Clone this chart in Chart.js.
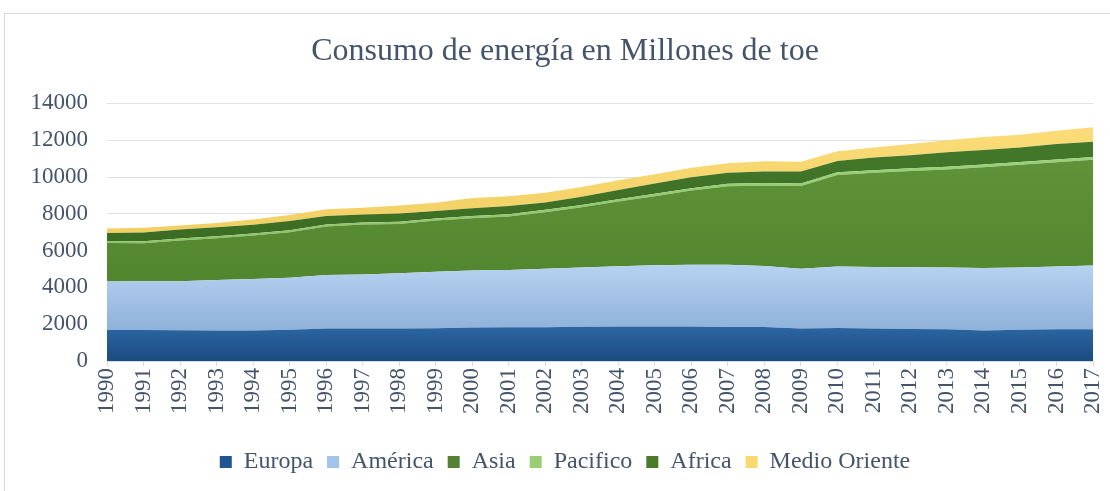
<!DOCTYPE html>
<html>
<head>
<meta charset="utf-8">
<script src="https://cdn.jsdelivr.net/npm/chart.js@4.4.1/dist/chart.umd.min.js"></script>
<style>
  body { margin: 0; background: #fff; overflow: hidden; }
  #frame { position: absolute; left: 4px; top: 13px; width: 1200px; height: 600px;
           border-left: 1px solid #d9d9d9; border-top: 1px solid #d9d9d9; }
  #myChart { position: absolute; left: 0; top: 0; }
</style>
</head>
<body>
<div id="frame"></div>
<canvas id="myChart" width="1110" height="491"></canvas>
<script>
const years = ['1990','1991','1992','1993','1994','1995','1996','1997','1998','1999',
  '2000','2001','2002','2003','2004','2005','2006','2007','2008','2009',
  '2010','2011','2012','2013','2014','2015','2016','2017']
const europa = [1680,1680,1670,1660,1660,1700,1770,1760,1770,1780,
  1820,1840,1840,1860,1870,1870,1870,1850,1850,1760,
  1800,1760,1740,1720,1660,1700,1720,1720]
const america = [2640,2650,2670,2740,2800,2830,2910,2940,3000,3070,
  3100,3110,3170,3220,3280,3330,3360,3380,3310,3260,
  3340,3350,3350,3360,3400,3380,3410,3470]
const asia = [2095,2065,2205,2275,2355,2465,2625,2715,2680,2780,
  2840,2900,3075,3275,3515,3750,4030,4270,4370,4490,
  4975,5115,5235,5325,5475,5585,5675,5745]
const pacifico = [110,110,110,110,110,115,115,115,120,120,
  125,125,130,130,130,135,135,135,140,140,
  145,145,145,150,150,150,150,150]
const africa = [435,475,485,485,485,495,455,435,450,400,
  420,450,405,435,505,565,585,595,630,650,
  615,685,715,785,785,795,835,835]
const medioOriente = [240,260,220,230,280,330,370,370,430,450,
  550,530,530,530,520,500,520,520,550,530,
  520,550,610,660,700,690,730,780]

const textColor = '#44546A'
const serif = "'Liberation Serif', 'Times New Roman', serif"

// vertical gradient over the shape of each stacked band
const bandGradient = (top, bottom, solid) => ctx => {
  const chart = ctx.chart
  const { chartArea, scales } = chart
  if (!chartArea || !scales.y) return solid
  const idx = ctx.datasetIndex
  let hi = 0, lo = Infinity
  years.forEach((y, i) => {
    let below = 0
    for (let d = 0; d < idx; d++) below += chart.data.datasets[d].data[i]
    const above = below + chart.data.datasets[idx].data[i]
    hi = Math.max(hi, above)
    lo = Math.min(lo, below)
  })
  const y0 = scales.y.getPixelForValue(hi)
  const y1 = scales.y.getPixelForValue(lo)
  const g = chart.ctx.createLinearGradient(0, y0, 0, y1)
  g.addColorStop(0, top)
  g.addColorStop(1, bottom)
  return g
}

const series = [
  { label: 'Europa', data: europa, top: '#2c66a2', bottom: '#1a4b80', solid: '#1f5591' },
  { label: 'América', data: america, top: '#b6d2f1', bottom: '#8fb2da', solid: '#a3c4ea' },
  { label: 'Asia', data: asia, top: '#5f9239', bottom: '#52862e', solid: '#548235' },
  { label: 'Pacifico', data: pacifico, top: '#9bd178', bottom: '#8cc468', solid: '#9acd76' },
  { label: 'Africa', data: africa, top: '#43782a', bottom: '#3b6c23', solid: '#4a7a2a' },
  { label: 'Medio Oriente', data: medioOriente, top: '#fbdc78', bottom: '#f1cf63', solid: '#fbd870' }
]

const ctx = document.getElementById('myChart')
const myChart = new Chart(ctx, {
  type: 'line',
  data: {
    labels: years,
    datasets: series.map((s, i) => ({
      label: s.label,
      data: s.data,
      fill: i === 0 ? 'origin' : '-1',
      backgroundColor: bandGradient(s.top, s.bottom, s.solid),
      borderColor: s.solid,
      borderWidth: 0,
      pointRadius: 0,
      tension: 0
    }))
  },
  options: {
    responsive: false,
    animation: false,
    layout: { padding: { left: 20, right: 0, top: 0, bottom: 7 } },
    plugins: {
      title: {
        display: true,
        text: 'Consumo de energía en Millones de toe',
        color: textColor,
        font: { family: serif, size: 32, weight: 'normal' },
        padding: { top: 32, bottom: 33 }
      },
      legend: {
        position: 'bottom',
        labels: {
          color: textColor,
          font: { family: serif, size: 24 },
          boxWidth: 12,
          boxHeight: 12,
          padding: 14,
          generateLabels: chart => series.map((s, i) => ({
            text: s.label,
            fillStyle: s.solid,
            strokeStyle: s.solid,
            lineWidth: 0,
            fontColor: textColor,
            datasetIndex: i
          }))
        }
      },
      tooltip: { enabled: false }
    },
    scales: {
      x: {
        offset: false,
        grid: { drawOnChartArea: false, drawTicks: true, tickLength: 5, color: '#d9d9d9' },
        border: { display: true, color: '#d9d9d9' },
        ticks: {
          color: textColor,
          font: { family: serif, size: 23 },
          minRotation: 90,
          maxRotation: 90,
          autoSkip: false,
          padding: 2
        },
        afterFit: scale => {
          scale.height = 75
          scale.paddingRight = 0
          scale.paddingLeft = 0
        }
      },
      y: {
        stacked: true,
        min: 0,
        max: 14000,
        ticks: {
          stepSize: 2000,
          color: textColor,
          font: { family: serif, size: 23 },
          padding: 19,
          callback: v => String(v)
        },
        grid: { color: '#dde1e8', drawTicks: false },
        border: { display: false },
        afterFit: scale => { scale.width = 87 }
      },
      yRight: {
        position: 'right',
        display: true,
        grid: { display: false },
        border: { display: false },
        ticks: { display: false },
        afterFit: scale => { scale.width = 17 }
      }
    }
  }
})
</script>
</body>
</html>
